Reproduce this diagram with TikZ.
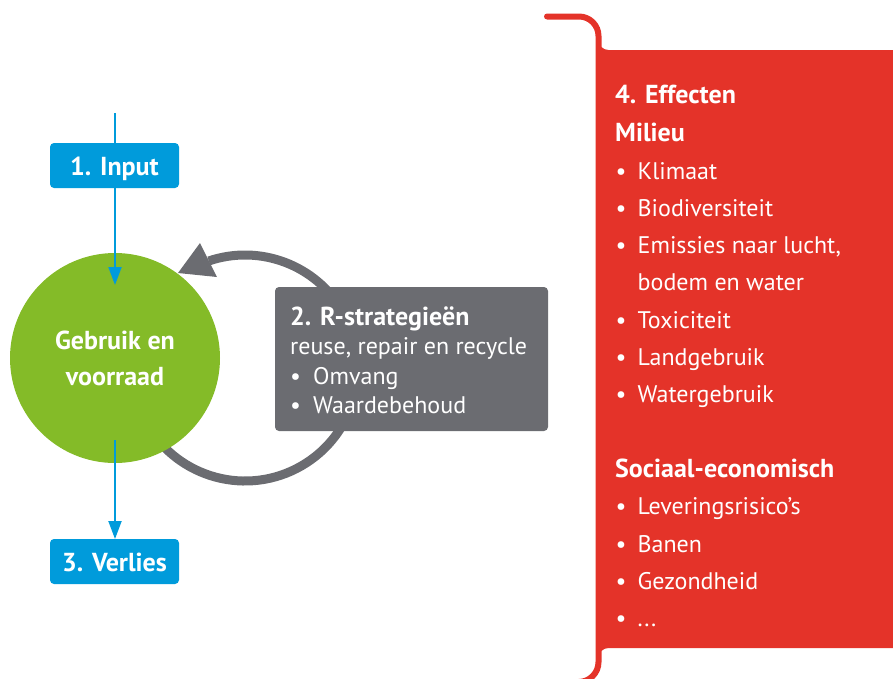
\documentclass[tikz,border=0pt]{standalone}
\usepackage{fontspec}
\setmainfont{PT Sans}
\usetikzlibrary{arrows.meta}
\definecolor{cblue}{RGB}{0,155,219}
\definecolor{cgreen}{RGB}{132,187,40}
\definecolor{cgray}{RGB}{107,108,113}
\definecolor{cred}{RGB}{228,51,41}
\begin{document}
\begin{tikzpicture}[x=1pt,y=-1pt,
  txt/.style={font=\fontsize{24}{28}\selectfont, text=white, inner sep=0pt},
  btxt/.style={font=\fontsize{26}{30}\selectfont\bfseries, text=white, inner sep=0pt},
  line/.style={anchor=base west},
  bluebox/.style={fill=cblue, rounded corners=4pt},
  flowarrow/.style={draw=cblue, line width=2pt, -{Triangle[length=18pt,width=13pt]}},
  loop/.style={draw=cgray, line width=9pt},
  redline/.style={draw=cred, line width=6pt, line cap=round}
]
\useasboundingbox (0,0) rectangle (893,678);
\clip (0,0) rectangle (893,678);

% ---- gray loop (R-strategies) ----
\coordinate (lc) at (245,368);
\draw[loop] (lc) ++(150:113) arc[start angle=150, end angle=-108.7, radius=113] coordinate (loopend);
\fill[cgray] (178,273) -- (200,243) -- (217,277) -- cycle;

% ---- green circle ----
\node[circle, fill=cgreen, minimum size=210pt, inner sep=0pt] (use) at (115,358) {};
\node[btxt, anchor=base] (use1) at (115,349.3) {Gebruik en};
\node[btxt, anchor=base] (use2) at (115,385) {voorraad};

% ---- blue flow ----
\coordinate (intop) at (115,113);
\coordinate (intip) at (115,285);
\coordinate (outstart) at (115,440);
\coordinate (outtip) at (115,539);
\draw[flowarrow] (intop) -- (intip);
\draw[flowarrow] (outstart) -- (outtip);

\path[bluebox] (50,143) rectangle (179,188);
\node[btxt, anchor=base] (input) at (114.5,175) {1. Input};
\path[bluebox] (50,539) rectangle (179,584);
\node[btxt, anchor=base] (loss) at (114.5,571.7) {3. Verlies};

% ---- gray box ----
\path[fill=cgray, rounded corners=4pt] (275,287) rectangle (548,431);
\node[btxt, line] (r1) at (290,325) {2. R-strategieën};
\node[txt, line] (r2) at (290,354) {reuse, repair en recycle};
\node[txt, line] (r3) at (290,384) {\makebox[23pt][l]{•}Omvang};
\node[txt, line] (r4) at (290,413) {\makebox[23pt][l]{•}Waardebehoud};

% ---- red panel ----
\fill[cred] (598.5,40) arc[start angle=180, end angle=90, radius=10]
  -- (893,50) -- (893,648) -- (608.5,648)
  arc[start angle=270, end angle=180, radius=10] -- cycle;
\draw[redline] (547,16.5) -- (579,16.5) arc[start angle=-90, end angle=0, radius=19.5]
  -- (598.5,662) arc[start angle=0, end angle=90, radius=20] -- (547,682);

\node[btxt, line] (e0) at (615,103.5) {4. Effecten};
\node[btxt, line] (e1) at (615,141) {Milieu};
\node[txt, line] (e2) at (615.5,179) {\makebox[22pt][l]{•}Klimaat};
\node[txt, line] (e3) at (615.5,216.3) {\makebox[22pt][l]{•}Biodiversiteit};
\node[txt, line] (e4) at (615.5,253.6) {\makebox[22pt][l]{•}Emissies naar lucht,};
\node[txt, line] (e5) at (615.5,290.9) {\makebox[22pt][l]{}bodem en water};
\node[txt, line] (e6) at (615.5,328.2) {\makebox[22pt][l]{•}Toxiciteit};
\node[txt, line] (e7) at (615.5,365.5) {\makebox[22pt][l]{•}Landgebruik};
\node[txt, line] (e8) at (615.5,402.8) {\makebox[22pt][l]{•}Watergebruik};
\node[btxt, line] (s0) at (615,477.4) {Sociaal-economisch};
\node[txt, line] (s1) at (615.5,514.7) {\makebox[22pt][l]{•}Leveringsrisico’s};
\node[txt, line] (s2) at (615.5,552) {\makebox[22pt][l]{•}Banen};
\node[txt, line] (s3) at (615.5,589.3) {\makebox[22pt][l]{•}Gezondheid};
\node[txt, line] (s4) at (615.5,626.6) {\makebox[22pt][l]{•}...};
\end{tikzpicture}
\end{document}
